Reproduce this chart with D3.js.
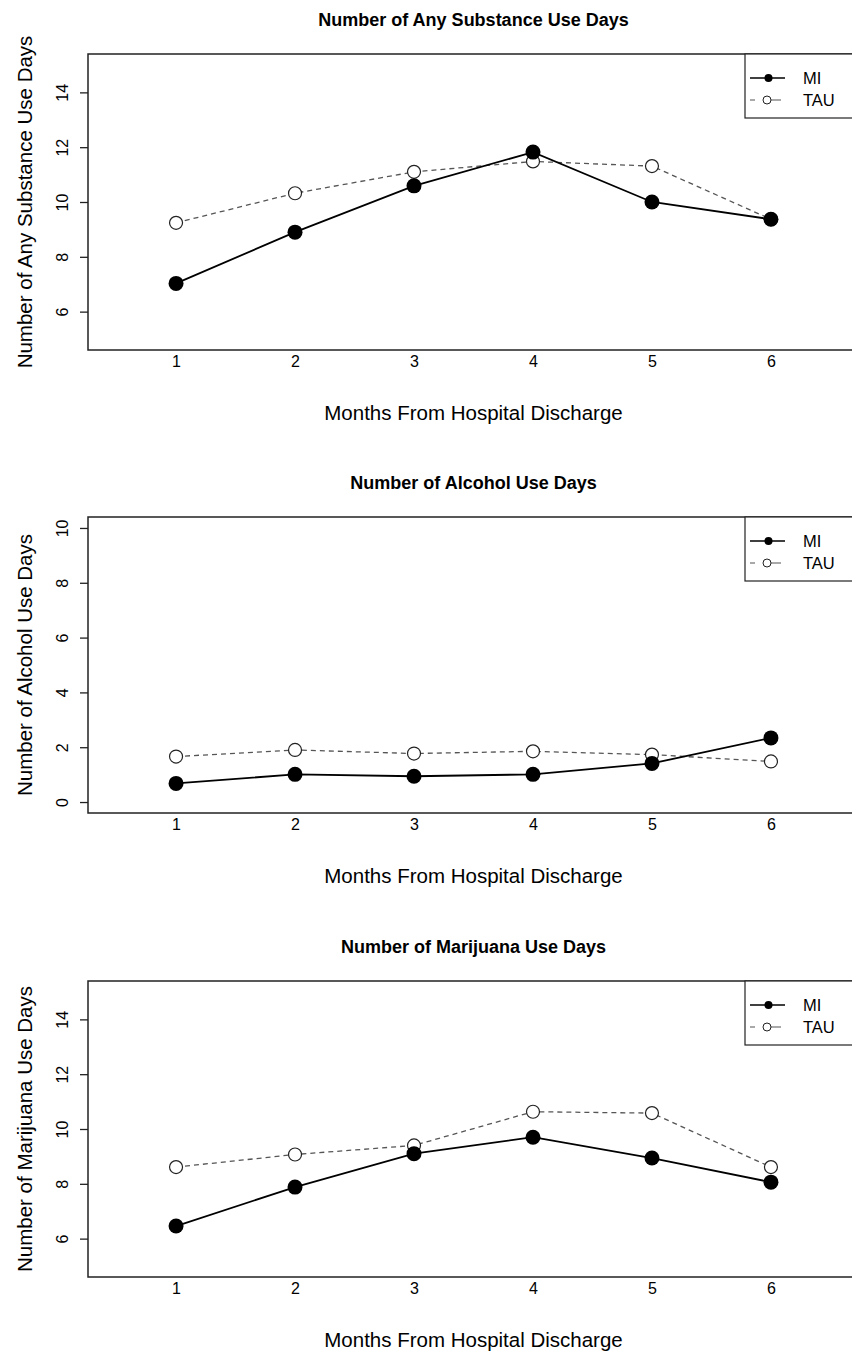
<!DOCTYPE html>
<html lang="en">

<head>
  <meta charset="UTF-8" />
  <title>Substance Use Days</title>
  <script src="https://d3js.org/d3.v7.min.js"></script>
  <style>
    body {
      margin: 0;
      background-color: white;
    }

    svg {
      display: block;
      font-family: "Liberation Sans", Arial, sans-serif;
    }

    .title {
      font-weight: bold;
      font-size: 18px;
    }

    .tick text {
      font-size: 16px;
      fill: black;
    }
  </style>
</head>

<body>
  <script>
    const months = [1, 2, 3, 4, 5, 6];
    const groups = ['MI', 'TAU'];

    const panelTitles = ['Number of Any Substance Use Days', 'Number of Alcohol Use Days', 'Number of Marijuana Use Days'];
    const yTitles = ['Number of Any Substance Use Days', 'Number of Alcohol Use Days', 'Number of Marijuana Use Days'];
    const yLimits = [[5, 15], [0, 10], [5, 15]];
    const yTicks = [[6, 8, 10, 12, 14], [0, 2, 4, 6, 8, 10], [6, 8, 10, 12, 14]];

    const anyMI = [7.03, 8.90, 10.59, 11.82, 10.0, 9.37];
    const anyTAU = [9.24, 10.32, 11.10, 11.48, 11.31, 9.37];
    const alcMI = [0.68, 1.01, 0.94, 1.01, 1.41, 2.34];
    const alcTAU = [1.66, 1.90, 1.77, 1.85, 1.73, 1.48];
    const marMI = [6.46, 7.88, 9.10, 9.70, 8.94, 8.06];
    const marTAU = [8.61, 9.07, 9.40, 10.63, 10.58, 8.61];

    const panelData = [[anyMI, anyTAU], [alcMI, alcTAU], [marMI, marTAU]];

    const w = 852;
    const h = 1355;
    const left = 88;
    const right = 859;
    const boxH = 296;
    const tops = [54, 517, 981];

    // R style 4% padding round the limits
    const pad = (lim) => {
      const d = (lim[1] - lim[0]) * 0.04;
      return [lim[0] - d, lim[1] + d];
    };

    const svg = d3.select('body')
      .append('svg')
      .attr('width', w)
      .attr('height', h);

    const xScale = d3.scaleLinear()
      .domain(pad([0.5, 6.5]))
      .range([left, right]);

    const midX = (left + right) / 2;

    panelTitles.forEach((title, p) => {
      const top = tops[p];
      const g = svg.append('g');

      const yScale = d3.scaleLinear()
        .domain(pad(yLimits[p]))
        .range([top + boxH, top]);

      g.append('text')
        .attr('class', 'title')
        .attr('x', midX)
        .attr('y', top - 28)
        .attr('text-anchor', 'middle')
        .text(title);

      // axes
      const xAxis = d3.axisBottom(xScale).tickValues(months).tickFormat(d3.format('d')).tickSize(0).tickSizeOuter(0);
      const xg = g.append('g')
        .attr('transform', `translate(0,${top + boxH})`)
        .call(xAxis);
      xg.select('.domain').remove();
      xg.selectAll('text').attr('y', 17).attr('dy', 0);

      const yAxis = d3.axisLeft(yScale).tickValues(yTicks[p]).tickSize(8).tickSizeOuter(0);
      const yg = g.append('g')
        .attr('transform', `translate(${left},0)`)
        .call(yAxis);
      yg.select('.domain').remove();
      yg.selectAll('line').attr('stroke', '#222').attr('stroke-width', 1.3);
      yg.selectAll('text')
        .attr('x', 0)
        .attr('y', -20)
        .attr('dy', 0)
        .attr('text-anchor', 'middle')
        .attr('transform', 'rotate(-90)');

      // box
      g.append('rect')
        .attr('x', left)
        .attr('y', top)
        .attr('width', right - left)
        .attr('height', boxH)
        .attr('fill', 'none')
        .attr('stroke', '#222')
        .attr('stroke-width', 1.5);

      g.append('text')
        .attr('x', midX)
        .attr('y', top + boxH + 70)
        .attr('text-anchor', 'middle')
        .attr('font-size', '20.5px')
        .text('Months From Hospital Discharge');

      g.append('text')
        .attr('transform', `translate(32,${top + boxH / 2}) rotate(-90)`)
        .attr('text-anchor', 'middle')
        .attr('font-size', '20.5px')
        .text(yTitles[p]);

      const line = d3.line()
        .x((d, i) => xScale(months[i]))
        .y(d => yScale(d));

      const [mi, tau] = panelData[p];

      g.append('path')
        .datum(tau)
        .attr('d', line)
        .attr('fill', 'none')
        .attr('stroke', '#555')
        .attr('stroke-width', 1.3)
        .attr('stroke-dasharray', '5,4');

      g.append('path')
        .datum(mi)
        .attr('d', line)
        .attr('fill', 'none')
        .attr('stroke', 'black')
        .attr('stroke-width', 1.8);

      g.selectAll('.tau')
        .data(tau)
        .enter()
        .append('circle')
        .attr('class', 'tau')
        .attr('cx', (d, i) => xScale(months[i]))
        .attr('cy', d => yScale(d))
        .attr('r', 6.5)
        .attr('fill', 'white')
        .attr('stroke', '#222')
        .attr('stroke-width', 1.2);

      g.selectAll('.mi')
        .data(mi)
        .enter()
        .append('circle')
        .attr('class', 'mi')
        .attr('cx', (d, i) => xScale(months[i]))
        .attr('cy', d => yScale(d))
        .attr('r', 7.5)
        .attr('fill', 'black');

      // legend
      const lg = g.append('g');
      lg.append('rect')
        .attr('x', 745)
        .attr('y', top)
        .attr('width', right - 745)
        .attr('height', 64)
        .attr('fill', 'white')
        .attr('stroke', '#222')
        .attr('stroke-width', 1.2);

      groups.forEach((name, k) => {
        const ly = top + 24 + k * 22;
        lg.append('line')
          .attr('x1', 750)
          .attr('x2', 785)
          .attr('y1', ly)
          .attr('y2', ly)
          .attr('stroke', k === 0 ? 'black' : '#555')
          .attr('stroke-width', k === 0 ? 1.5 : 1.2)
          .attr('stroke-dasharray', k === 0 ? null : '5,7,0,8,11');
        lg.append('circle')
          .attr('cx', k === 0 ? 768.5 : 767)
          .attr('cy', ly)
          .attr('r', 4)
          .attr('fill', k === 0 ? 'black' : 'white')
          .attr('stroke', k === 0 ? 'none' : '#222')
          .attr('stroke-width', 1);
        lg.append('text')
          .attr('x', 803)
          .attr('y', ly + 6)
          .attr('font-size', '16.5px')
          .text(name);
      });
    });
  </script>
</body>

</html>
